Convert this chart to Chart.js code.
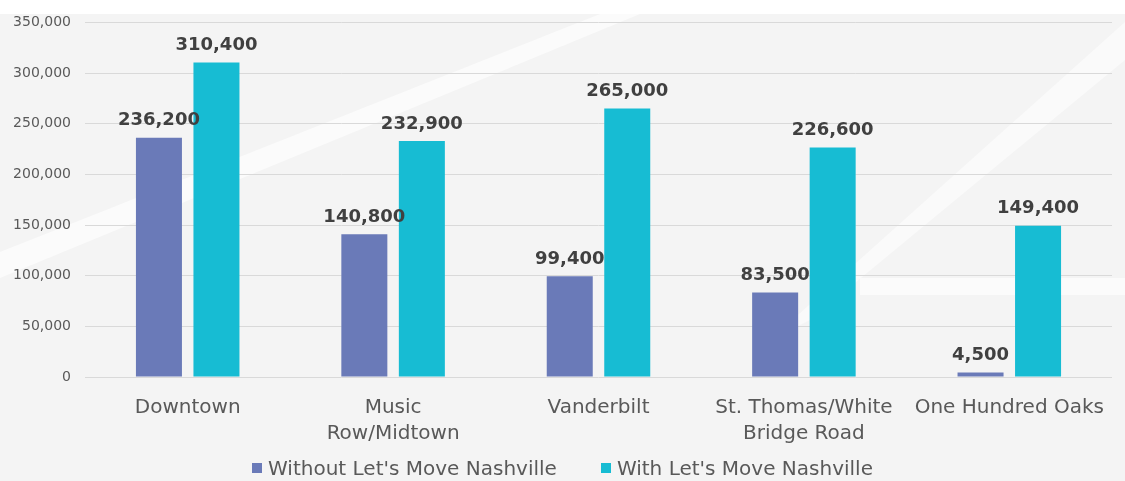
<!DOCTYPE html>
<html>
<head>
<meta charset="utf-8">
<script src="https://cdn.jsdelivr.net/npm/chart.js@4.4.1/dist/chart.umd.min.js"></script>
<style>
  html, body { margin:0; padding:0; }
  body { width:1125px; height:481px; position:relative; overflow:hidden; background:#f4f4f4; font-family:'DejaVu Sans', sans-serif; }
  #bg { position:absolute; left:0; top:0; }
  #wrap { position:absolute; left:0; top:0; width:1125px; height:481px; }
  #leyenda { position:absolute; left:0; top:456px; width:1125px; display:flex; justify-content:center; gap:44px; font-size:20px; color:#595959; line-height:24px; }
  .ley-item { display:flex; align-items:center; gap:6px; }
  .ley-box { width:10px; height:10px; display:inline-block; }
</style>
</head>
<body>
<!-- fondo con franjas diagonales -->
<svg id="bg" width="1125" height="481">
  <rect x="0" y="0" width="1125" height="14" fill="#ffffff"/>
  <polygon points="0,252 0,278 640,14 600,14" fill="#fbfbfb"/>
  <polygon points="1125,22 1125,60 810,320 770,340" fill="#fafafa"/>
  <rect x="860" y="278" width="265" height="17" fill="#fbfbfb"/>
</svg>
<div id="wrap"><canvas id="chart" width="1125" height="481"></canvas></div>
<div id="leyenda"></div>

<script>
/* ── DATOS ── */
const CATEGORIAS = ['Downtown', ['Music', 'Row/Midtown'], 'Vanderbilt', ['St. Thomas/White', 'Bridge Road'], 'One Hundred Oaks'];
const SIN_LMN    = [236200, 140800, 99400, 83500, 4500];
const CON_LMN    = [310400, 232900, 265000, 226600, 149400];
const SERIES     = ['Without Let\'s Move Nashville', 'With Let\'s Move Nashville'];
const Y_MAX      = 350000;
const Y_STEP     = 50000;

const COLORES = ['#6a7ab8', '#17bcd3'];
const FONT    = 'DejaVu Sans, sans-serif';
const GRIS    = '#595959';

/* ── ETIQUETAS SOBRE BARRAS ── */
const barLabels = {
  id: 'barLabels',
  afterDatasetsDraw(chart) {
    const ctx = chart.ctx;
    ctx.save();
    ctx.font = `bold 18px ${FONT}`;
    ctx.fillStyle = '#404040';
    ctx.textAlign = 'center';
    ctx.textBaseline = 'bottom';
    chart.data.datasets.forEach((ds, i) => {
      chart.getDatasetMeta(i).data.forEach((bar, j) => {
        ctx.fillText(ds.data[j].toLocaleString('en-US'), bar.x, bar.y - 8);
      });
    });
    ctx.restore();
  }
};

const chart = new Chart(document.getElementById('chart').getContext('2d'), {
  type: 'bar',
  data: {
    labels: CATEGORIAS,
    datasets: [
      { label: SERIES[0], data: SIN_LMN, backgroundColor: COLORES[0] },
      { label: SERIES[1], data: CON_LMN, backgroundColor: COLORES[1] }
    ]
  },
  options: {
    responsive: false,
    animation: false,
    categoryPercentage: 0.56,
    barPercentage: 0.8,
    layout: { padding: { top: 16, right: 13, left: 0, bottom: 24 } },
    plugins: {
      tooltip: { enabled: false },
      legend: { display: false }
    },
    scales: {
      x: {
        grid: { display: false },
        border: { display: false },
        ticks: { color: GRIS, font: { family: FONT, size: 20, lineHeight: 1.3 }, maxRotation: 0, autoSkip: false, padding: 10 }
      },
      y: {
        min: 0, max: Y_MAX,
        afterFit(s) { s.width = 85; },
        grid: { color: '#d9d9d9', drawTicks: false },
        border: { display: false },
        ticks: {
          stepSize: Y_STEP,
          color: GRIS,
          padding: 14,
          font: { family: FONT, size: 14 },
          callback: v => v.toLocaleString('en-US')
        }
      }
    }
  },
  plugins: [barLabels]
});

/* ── LEYENDA ── */
document.getElementById('leyenda').innerHTML = chart.data.datasets.map(ds =>
  `<div class="ley-item"><span class="ley-box" style="background:${ds.backgroundColor}"></span><span>${ds.label}</span></div>`
).join('');
</script>
</body>
</html>
